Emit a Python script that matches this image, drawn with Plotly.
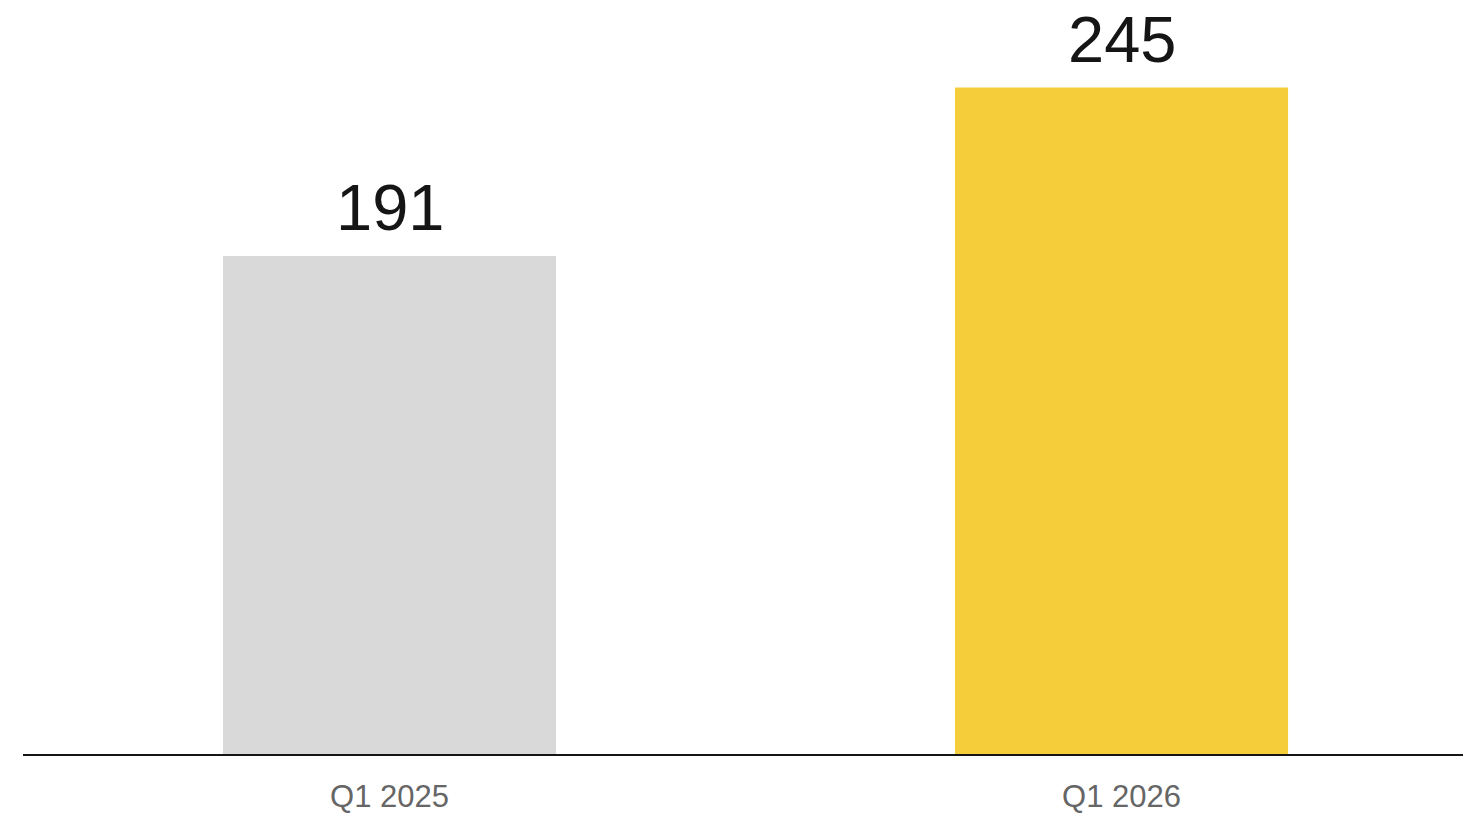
import plotly.graph_objects as go

categories = ["Q1 2025", "Q1 2026"]
values = [191, 245]
colors = ["#d9d9d9", "#f5cd3a"]

fig = go.Figure(
    go.Bar(
        x=[0, 1],
        y=values,
        marker=dict(color=colors, line=dict(width=0)),
        width=0.455,
        hoverinfo="skip",
    )
)

for i, v in enumerate(values):
    fig.add_annotation(
        x=i, y=v, text=str(v), showarrow=False,
        yanchor="bottom", xanchor="center", yshift=10,
        font=dict(family="Liberation Sans, Arial, sans-serif", size=65, color="#151515"),
    )

fig.update_layout(
    width=1455,
    height=805,
    margin=dict(l=15, r=0, t=0, b=59),
    paper_bgcolor="white",
    plot_bgcolor="white",
    showlegend=False,
    xaxis=dict(
        range=[-0.5007, 1.4665],
        tickvals=[0, 1],
        ticktext=categories,
        showline=True,
        linecolor="#151515",
        linewidth=2,
        showgrid=False,
        zeroline=False,
        ticks="",
        automargin=False,
        ticklabelstandoff=14,
        tickfont=dict(family="Liberation Sans, Arial, sans-serif", size=31, color="#666666"),
    ),
    yaxis=dict(
        range=[31.4, 270.5],
        visible=False,
        showgrid=False,
        zeroline=False,
        automargin=False,
    ),
)

fig.write_html("out.html")
